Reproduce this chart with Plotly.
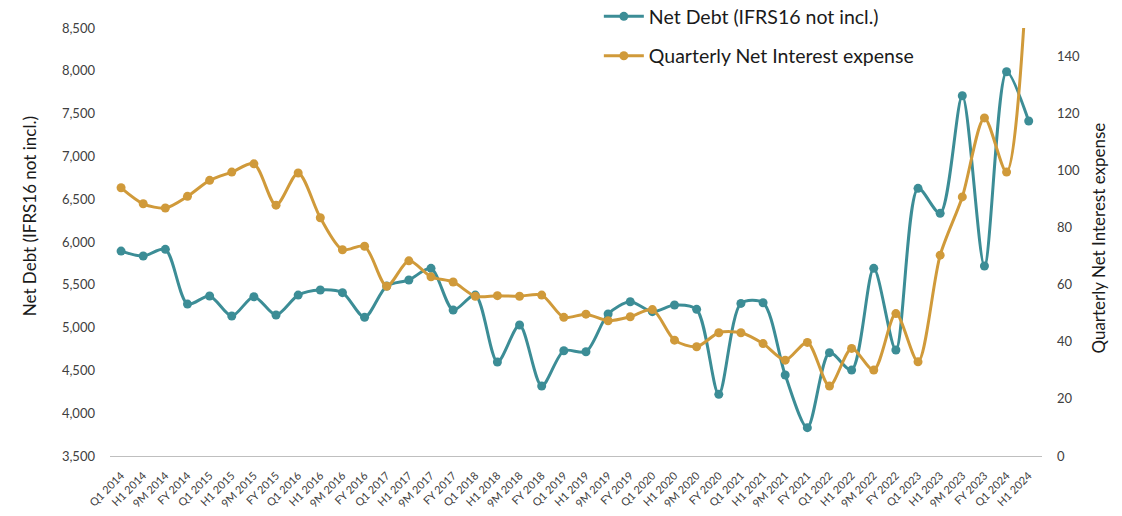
import plotly.graph_objects as go

periods = []
for yr in range(2014, 2025):
    for p in ["Q1", "H1", "9M", "FY"]:
        periods.append(f"{p} {yr}")
periods = periods[:42]

net_debt = [5894, 5836, 5914, 5275, 5369, 5135, 5361, 5147, 5380, 5439, 5408, 5120,
            5486, 5556, 5692, 5205, 5380, 4598, 5030, 4318, 4730, 4718, 5159, 5302,
            5186, 5264, 5213, 4220, 5283, 5290, 4446, 3831, 4707, 4504, 5692, 4738,
            6627, 6335, 7708, 5719, 7989, 7413]

interest = [94.0, 88.4, 86.9, 91.0, 96.6, 99.5, 102.4, 87.9, 99.2, 83.5, 72.3, 73.5,
            59.5, 68.4, 62.8, 61.0, 56.0, 56.2, 56.0, 56.4, 48.6, 49.7, 47.4, 48.8,
            51.3, 40.6, 38.3, 43.2, 43.2, 39.4, 33.6, 39.8, 24.5, 37.7, 30.1, 49.9,
            33.0, 70.4, 90.8, 118.5, 99.5, 180.0]

teal = "#3C8D96"
gold = "#D09A3A"
font_family = "Lato, Open Sans, sans-serif"

fig = go.Figure()
fig.add_trace(go.Scatter(
    x=periods, y=net_debt, name="Net Debt (IFRS16 not incl.)",
    mode="lines+markers", line=dict(color=teal, width=3, shape="spline", smoothing=0.8),
    marker=dict(size=9, color=teal), legendgroup="a", cliponaxis=True))
fig.add_trace(go.Scatter(
    x=periods, y=interest, name="Quarterly Net Interest expense", yaxis="y2",
    mode="lines+markers", line=dict(color=gold, width=3, shape="spline", smoothing=0.8),
    marker=dict(size=9, color=gold), legendgroup="b", cliponaxis=True))

fig.update_layout(
    width=1122, height=516,
    paper_bgcolor="white", plot_bgcolor="white",
    margin=dict(l=102, r=88, t=20, b=68, autoexpand=False),
    font=dict(family=font_family, color="#404040"),
    showlegend=True,
    legend=dict(xref="container", yref="paper", x=0.5266, y=1.072,
                xanchor="left", yanchor="top",
                font=dict(size=19.5, color="#1a1a1a", family=font_family),
                tracegroupgap=11, bgcolor="rgba(0,0,0,0)", itemwidth=40),
    xaxis=dict(
        type="category", tickangle=-45, tickfont=dict(size=11, color="#404040"),
        showgrid=False, showline=True, linecolor="#bfbfbf", linewidth=1,
        ticks="", automargin=False, range=[-0.5, 41.6], ticklabelstandoff=8),
    yaxis=dict(
        range=[3500, 8500], dtick=500, tickformat=",", showgrid=False,
        zeroline=False, showline=False, tickfont=dict(size=13, color="#404040"),
        ticklabelstandoff=14, automargin=False),
    yaxis2=dict(
        range=[0, 150], dtick=20, overlaying="y", side="right", showgrid=False,
        zeroline=False, showline=False, tickfont=dict(size=13, color="#404040"),
        automargin=False, ticklabelstandoff=14),
    annotations=[
        dict(text="Net Debt (IFRS16 not incl.)", textangle=-90, xref="paper", yref="paper",
             x=-0.087, y=0.56, xanchor="center", yanchor="middle", showarrow=False,
             font=dict(size=17, color="#1a1a1a", family=font_family)),
        dict(text="Quarterly Net Interest expense", textangle=-90, xref="paper", yref="paper",
             x=1.061, y=0.51, xanchor="center", yanchor="middle", showarrow=False,
             font=dict(size=17, color="#1a1a1a", family=font_family)),
    ],
)

fig.write_html("out.html")
